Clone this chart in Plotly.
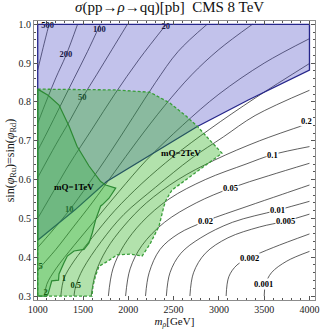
import plotly.graph_objects as go

# contour levels of sigma(pp -> rho -> qq) [pb] (m_rho [GeV], sin phi)
line_500 = [(1000, 0.882), (1060, 0.94), (1125, 1.0)]
line_200 = [(1000, 0.745), (1100, 0.805), (1200, 0.862), (1312, 0.92), (1440, 1.0)]
line_100 = [(1000, 0.675), (1100, 0.72), (1250, 0.79), (1400, 0.86), (1550, 0.93), (1690, 1.0)]
line_50 = [(1000, 0.605), (1200, 0.69), (1350, 0.75), (1492, 0.81), (1650, 0.87), (1820, 0.935), (1990, 1.0)]
line_20 = [(1000, 0.5), (1150, 0.56), (1350, 0.64), (1600, 0.73), (1850, 0.82), (2120, 0.91), (2420, 1.0)]
line_10 = [(1000, 0.425), (1150, 0.465), (1349, 0.521), (1550, 0.585), (1800, 0.67), (2050, 0.76),
           (2300, 0.85), (2550, 0.93), (2870, 1.0)]
line_5 = [(1000, 0.365), (1033, 0.375), (1200, 0.42), (1400, 0.48), (1600, 0.54), (1850, 0.62), (2100, 0.7),
          (2400, 0.79), (2700, 0.87), (3000, 0.935), (3370, 1.0)]
line_2 = [(1075, 0.3), (1100, 0.33), (1200, 0.37), (1400, 0.43), (1650, 0.5), (1900, 0.57), (2200, 0.65),
          (2600, 0.74), (3000, 0.82), (3500, 0.9), (4000, 0.963)]
line_1 = [(1255, 0.3), (1290, 0.345), (1400, 0.39), (1600, 0.45), (1850, 0.52), (2150, 0.59), (2500, 0.66),
          (2900, 0.73), (3400, 0.81), (4000, 0.899)]
line_05 = [(1400, 0.3), (1420, 0.326), (1500, 0.37), (1700, 0.44), (1950, 0.51), (2300, 0.58), (2700, 0.655),
           (3050, 0.71), (3400, 0.765), (4000, 0.83)]
line_02 = [(1590, 0.3), (1640, 0.36), (1760, 0.42), (1950, 0.48), (2200, 0.54), (2550, 0.6), (2950, 0.65),
           (3450, 0.7), (4000, 0.745)]
line_01 = [(1780, 0.3), (1830, 0.37), (1950, 0.43), (2150, 0.49), (2450, 0.55), (2850, 0.6), (3300, 0.64),
           (3590, 0.664), (4000, 0.685)]
line_005 = [(1970, 0.3), (2020, 0.37), (2150, 0.43), (2400, 0.49), (2750, 0.54), (3131, 0.578), (3550, 0.61),
            (4000, 0.642)]
line_002 = [(2190, 0.3), (2230, 0.36), (2350, 0.42), (2550, 0.46), (2855, 0.493), (3300, 0.53), (3700, 0.562),
            (4000, 0.586)]
line_001 = [(2420, 0.3), (2460, 0.36), (2580, 0.41), (2800, 0.45), (3150, 0.49), (3645, 0.521), (4000, 0.544)]
line_0005 = [(2680, 0.3), (2720, 0.36), (2850, 0.41), (3100, 0.45), (3450, 0.478), (3737, 0.493), (4000, 0.511)]
line_0002 = [(3080, 0.3), (3110, 0.35), (3200, 0.38), (3333, 0.398), (3600, 0.425), (4000, 0.46)]
line_0001 = [(3500, 0.3), (3515, 0.33), (3580, 0.36), (3750, 0.39), (4000, 0.415)]

# contour labels: text, position
labels_in_fill = ["500", "200", "100", "50", "20", "10", "5", "2", "1", "0.5"]
labels_in_fill_m = [1110, 1312, 1680, 1492, 2413, 1349, 1033, 1088, 1290, 1420]
labels_in_fill_s = [0.995, 0.92, 0.985, 0.81, 0.993, 0.521, 0.375, 0.307, 0.345, 0.326]
labels_white = ["0.2", "0.1", "0.05", "0.02", "0.01", "0.005", "0.002", "0.001"]
labels_white_m = [3965, 3590, 3131, 2855, 3645, 3737, 3333, 3490]
labels_white_s = [0.752, 0.664, 0.578, 0.493, 0.521, 0.493, 0.398, 0.33]

# excluded regions
blue_m = [1000, 4000, 4000, 3324, 2757, 2300, 1762, 1412, 1000, 1000]
blue_s = [1.0, 1.0, 0.882, 0.805, 0.736, 0.671, 0.595, 0.522, 0.444, 1.0]

mq2_m = [1000, 1853, 2240, 2460, 2626, 2759, 2902, 3034, 2482, 2416, 2394, 2339, 2240, 2152, 2030, 1875,
         1776, 1677, 1638, 1610, 1599, 1000, 1000]
mq2_s = [0.833, 0.831, 0.825, 0.797, 0.766, 0.738, 0.701, 0.668, 0.573, 0.547, 0.532, 0.48, 0.434, 0.403,
         0.408, 0.406, 0.39, 0.377, 0.352, 0.326, 0.3, 0.3, 0.833]

mq1_m = [1000, 1114, 1235, 1345, 1434, 1566, 1695, 1751, 1861, 1787, 1713, 1695, 1640, 1603, 1566, 1511,
         1401, 1327, 1290, 1235, 1230, 1155, 1117, 1099, 1000, 1000]
mq1_s = [0.833, 0.817, 0.792, 0.738, 0.686, 0.635, 0.595, 0.586, 0.578, 0.552, 0.535, 0.532, 0.497, 0.463,
         0.437, 0.42, 0.416, 0.403, 0.386, 0.357, 0.341, 0.339, 0.307, 0.3, 0.3, 0.833]

contour_lines = [line_500, line_200, line_100, line_50, line_20, line_10, line_5, line_2, line_1, line_05,
                 line_02, line_01, line_005, line_002, line_001, line_0005, line_0002, line_0001]

serif = "Liberation Serif"
fig = go.Figure()

for pts in contour_lines:
    fig.add_trace(go.Scatter(x=[p[0] for p in pts], y=[p[1] for p in pts], mode="lines",
                             line=dict(color="#1a1a1a", width=0.7, shape="spline"),
                             hoverinfo="skip", showlegend=False))

fig.add_trace(go.Scatter(x=labels_in_fill_m, y=labels_in_fill_s, mode="text",
                         text=["<b>" + t + "</b>" for t in labels_in_fill],
                         textfont=dict(family=serif, size=8.5, color="#000"),
                         hoverinfo="skip", showlegend=False))

fig.add_trace(go.Scatter(x=blue_m, y=blue_s, mode="lines", fill="toself",
                         fillcolor="rgba(70,70,195,0.33)", line=dict(color="#26268a", width=1.3),
                         hoverinfo="skip", showlegend=False))
fig.add_trace(go.Scatter(x=mq2_m, y=mq2_s, mode="lines", fill="toself",
                         fillcolor="rgba(35,172,18,0.35)",
                         line=dict(color="#3a9e3a", width=1.3, dash="3px,2px"),
                         hoverinfo="skip", showlegend=False))
fig.add_trace(go.Scatter(x=mq1_m, y=mq1_s, mode="lines", fill="toself",
                         fillcolor="rgba(51,179,59,0.3)", line=dict(color="#2d8a34", width=1.2),
                         hoverinfo="skip", showlegend=False))

for t, m, s in zip(labels_white, labels_white_m, labels_white_s):
    fig.add_annotation(x=m, y=s, text="<b>" + t + "</b>", showarrow=False, bgcolor="white",
                       borderpad=0, font=dict(family=serif, size=8.5, color="#000"))

fig.add_annotation(x=1404, y=0.581, text="<b>mQ=1TeV</b>", showarrow=False,
                   font=dict(family=serif, size=9, color="#000"))
fig.add_annotation(x=2580, y=0.668, text="<b>mQ=2TeV</b>", showarrow=False,
                   font=dict(family=serif, size=9, color="#000"))

axis_common = dict(showgrid=False, zeroline=False, showline=True, linecolor="#8c8c8c", linewidth=1,
                   mirror="ticks", ticks="inside", ticklen=4, tickcolor="#555", automargin=False,
                   tickfont=dict(family=serif, size=10, color="#222"))

fig.update_layout(
    width=320, height=335,
    margin=dict(l=34, r=5, t=21, b=35),
    paper_bgcolor="white", plot_bgcolor="white",
    title=dict(text="<i>σ</i>(pp→<i>ρ</i>→qq)[pb]  CMS 8 TeV", x=0.53, xanchor="center",
               y=0.996, yanchor="top", font=dict(family=serif, size=15, color="#111")),
    xaxis=dict(range=[959, 4061], tickvals=[1000, 1500, 2000, 2500, 3000, 3500, 4000],
               minor=dict(dtick=100, ticks="inside", ticklen=2, tickcolor="#555"),
               title=dict(text="<i>m</i><sub><i>ρ</i></sub>[GeV]", standoff=2,
                          font=dict(family=serif, size=11, color="#111")),
               **axis_common),
    yaxis=dict(range=[0.2898, 1.0085], dtick=0.1, tick0=0.3, tickformat=".1f",
               minor=dict(dtick=0.02, ticks="inside", ticklen=2, tickcolor="#555"),
               title=dict(text="sin(<i>φ</i><sub>Ru</sub>)=sin(<i>φ</i><sub>Rd</sub>)", standoff=0,
                          font=dict(family=serif, size=12, color="#111")),
               **axis_common),
)

# drop the page's default body margin so the figure sits at the window's corner
fig.write_html("out.html", config={"displayModeBar": False},
               post_script="document.body.style.margin='0';")
